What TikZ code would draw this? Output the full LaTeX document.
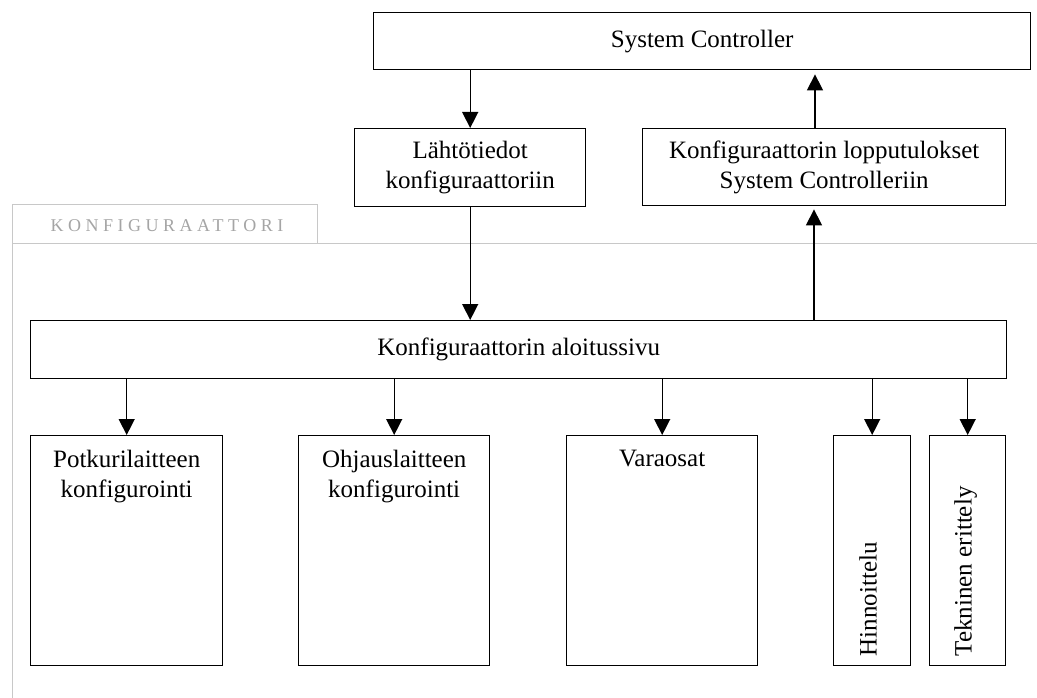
\documentclass[tikz,border=0pt]{standalone}
\usepackage{fontspec}
\setmainfont{Liberation Serif}
\usetikzlibrary{arrows.meta}
\definecolor{framegrey}{RGB}{200,200,200}
\definecolor{labelgrey}{RGB}{165,165,165}
\begin{document}
\begin{tikzpicture}[x=1pt,y=-1pt,
  box/.style={draw=black,line width=1.4pt,rectangle,inner sep=0pt,anchor=north west,
    align=center,font=\fontsize{25}{30}\selectfont},
  lbl/.style={inner sep=0pt,align=center,font=\fontsize{25}{30}\selectfont},
  arr/.style={-{Triangle[width=16pt,length=16pt]},line width=1.4pt},
  frame/.style={draw=framegrey,line width=1pt}
]
\fill[white] (0,0) rectangle (1037,698);
\useasboundingbox (0,0) rectangle (1037,698);

% configurator frame with its tab
\draw[frame] (12,698) -- (12,205) -- (317,205) -- (317,243);
\draw[frame] (12,243) -- (1037,243);
\node[inner sep=0pt,anchor=base,text=labelgrey,
  font=\fontsize{18}{22}\selectfont\addfontfeature{LetterSpace=25}] (frametitle) at (167,232) {KONFIGURAATTORI};

% upper boxes
\node[box,minimum width=657pt,minimum height=57pt] (sc) at (373,12) {System Controller};
\node[box,minimum width=231pt,minimum height=78pt] (lah) at (354,128) {Lähtötiedot\\konfiguraattoriin};
\node[box,minimum width=363pt,minimum height=77pt] (lop) at (642,128) {Konfiguraattorin lopputulokset\\System Controlleriin};

% start page
\node[box,minimum width=976pt,minimum height=58pt] (main) at (30,320) {Konfiguraattorin aloitussivu};

% lower boxes
\node[box,minimum width=192pt,minimum height=230pt] (b1) at (30,435) {};
\node[box,minimum width=191pt,minimum height=230pt] (b2) at (298,435) {};
\node[box,minimum width=191pt,minimum height=230pt] (b3) at (566,435) {};
\node[box,minimum width=77pt,minimum height=230pt] (b4) at (833,435) {};
\node[box,minimum width=76pt,minimum height=230pt] (b5) at (929,435) {};

\node[lbl,anchor=north] (t1) at ([yshift=-15pt]b1.north) {Potkurilaitteen\\konfigurointi};
\node[lbl,anchor=north] (t2) at ([yshift=-15pt]b2.north) {Ohjauslaitteen\\konfigurointi};
\node[lbl,anchor=north] (t3) at ([yshift=-15pt]b3.north) {Varaosat};
\node[lbl,rotate=90,anchor=base west] (t4) at ([xshift=4.5pt,yshift=10pt]b4.south) {Hinnoittelu};
\node[lbl,rotate=90,anchor=base west] (t5) at ([xshift=4pt,yshift=10pt]b5.south) {Tekninen erittely};

% connectors
\draw[arr] (sc.south -| lah.north) -- (lah.north);
\draw[arr,shorten >=4pt] (lop.north -| 815,0) -- (sc.south -| 815,0);
\draw[arr] (lah.south) -- (main.north -| lah.south);
\draw[arr,shorten >=3pt] (main.north -| 814,0) -- (lop.south -| 814,0);
\draw[arr] (main.south -| b1.north) -- (b1.north);
\draw[arr] (main.south -| b2.north) -- (b2.north);
\draw[arr] (main.south -| b3.north) -- (b3.north);
\draw[arr] (main.south -| b4.north) -- (b4.north);
\draw[arr] (main.south -| b5.north) -- (b5.north);
\end{tikzpicture}
\end{document}
